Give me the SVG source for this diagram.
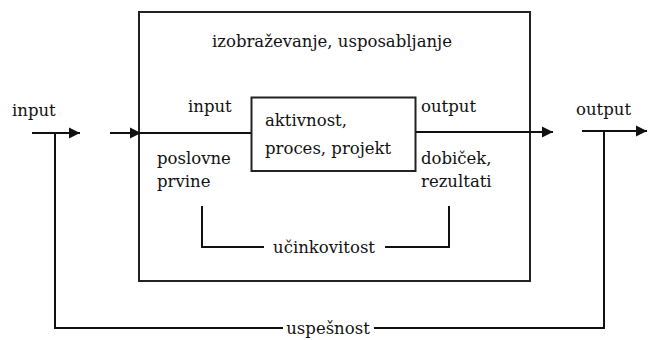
<svg xmlns="http://www.w3.org/2000/svg" width="648" height="340" viewBox="0 0 648 340">
  <style>
    text { font-family: "DejaVu Serif", "Liberation Serif", serif; font-size: 16.5px; fill: #111; }
    .box { fill: none; stroke: #222; stroke-width: 2; }
    .wire { fill: none; stroke: #111; stroke-width: 2; }
    .mid { text-anchor: middle; }
  </style>
  <defs>
    <marker id="head" markerUnits="userSpaceOnUse" markerWidth="12" markerHeight="12" viewBox="0 0 12 12" refX="11" refY="6" orient="auto">
      <path d="M0,0.5 L11,6 L0,11.5 Z" fill="#111"/>
    </marker>
  </defs>
  <rect width="648" height="340" fill="#fff"/>

  <!-- training / education frame -->
  <g id="frame">
    <rect class="box" x="139" y="12" width="391" height="269"/>
    <text class="mid" x="332" y="47">izobraževanje, usposabljanje</text>
  </g>

  <!-- core activity -->
  <g id="activity">
    <rect class="box" x="251.5" y="97.5" width="164" height="73.5" stroke-width="1.6"/>
    <text x="265" y="126">aktivnost,</text>
    <text x="265" y="154">proces, projekt</text>
  </g>

  <g id="inner-input">
    <text x="188" y="112">input</text>
    <text x="157" y="164">poslovne</text>
    <text x="157" y="187">prvine</text>
  </g>

  <g id="inner-output">
    <text x="421" y="112">output</text>
    <text x="421" y="164">dobiček,</text>
    <text x="421" y="187">rezultati</text>
  </g>

  <g id="outer-input">
    <text x="12" y="116">input</text>
  </g>

  <g id="outer-output">
    <text x="576" y="115">output</text>
  </g>

  <g id="connectors">
    <!-- main flow -->
    <line class="wire" x1="32" y1="133" x2="80" y2="133" marker-end="url(#head)"/>
    <line class="wire" x1="110" y1="133" x2="141" y2="133" marker-end="url(#head)"/>
    <line class="wire" x1="140" y1="133" x2="251" y2="133"/>
    <line class="wire" x1="416" y1="132" x2="553" y2="132" marker-end="url(#head)"/>
    <line class="wire" x1="582" y1="131" x2="647" y2="131" marker-end="url(#head)"/>

    <!-- efficiency loop -->
    <polyline class="wire" points="202,206 202,247 264,247"/>
    <polyline class="wire" points="385,247 449,247 449,206"/>
    <text class="mid" x="324" y="253">učinkovitost</text>

    <!-- success loop -->
    <polyline class="wire" points="55,133 55,328 283,328"/>
    <polyline class="wire" points="374,328 604,328 604,131"/>
    <text class="mid" x="328" y="334">uspešnost</text>
  </g>
</svg>
